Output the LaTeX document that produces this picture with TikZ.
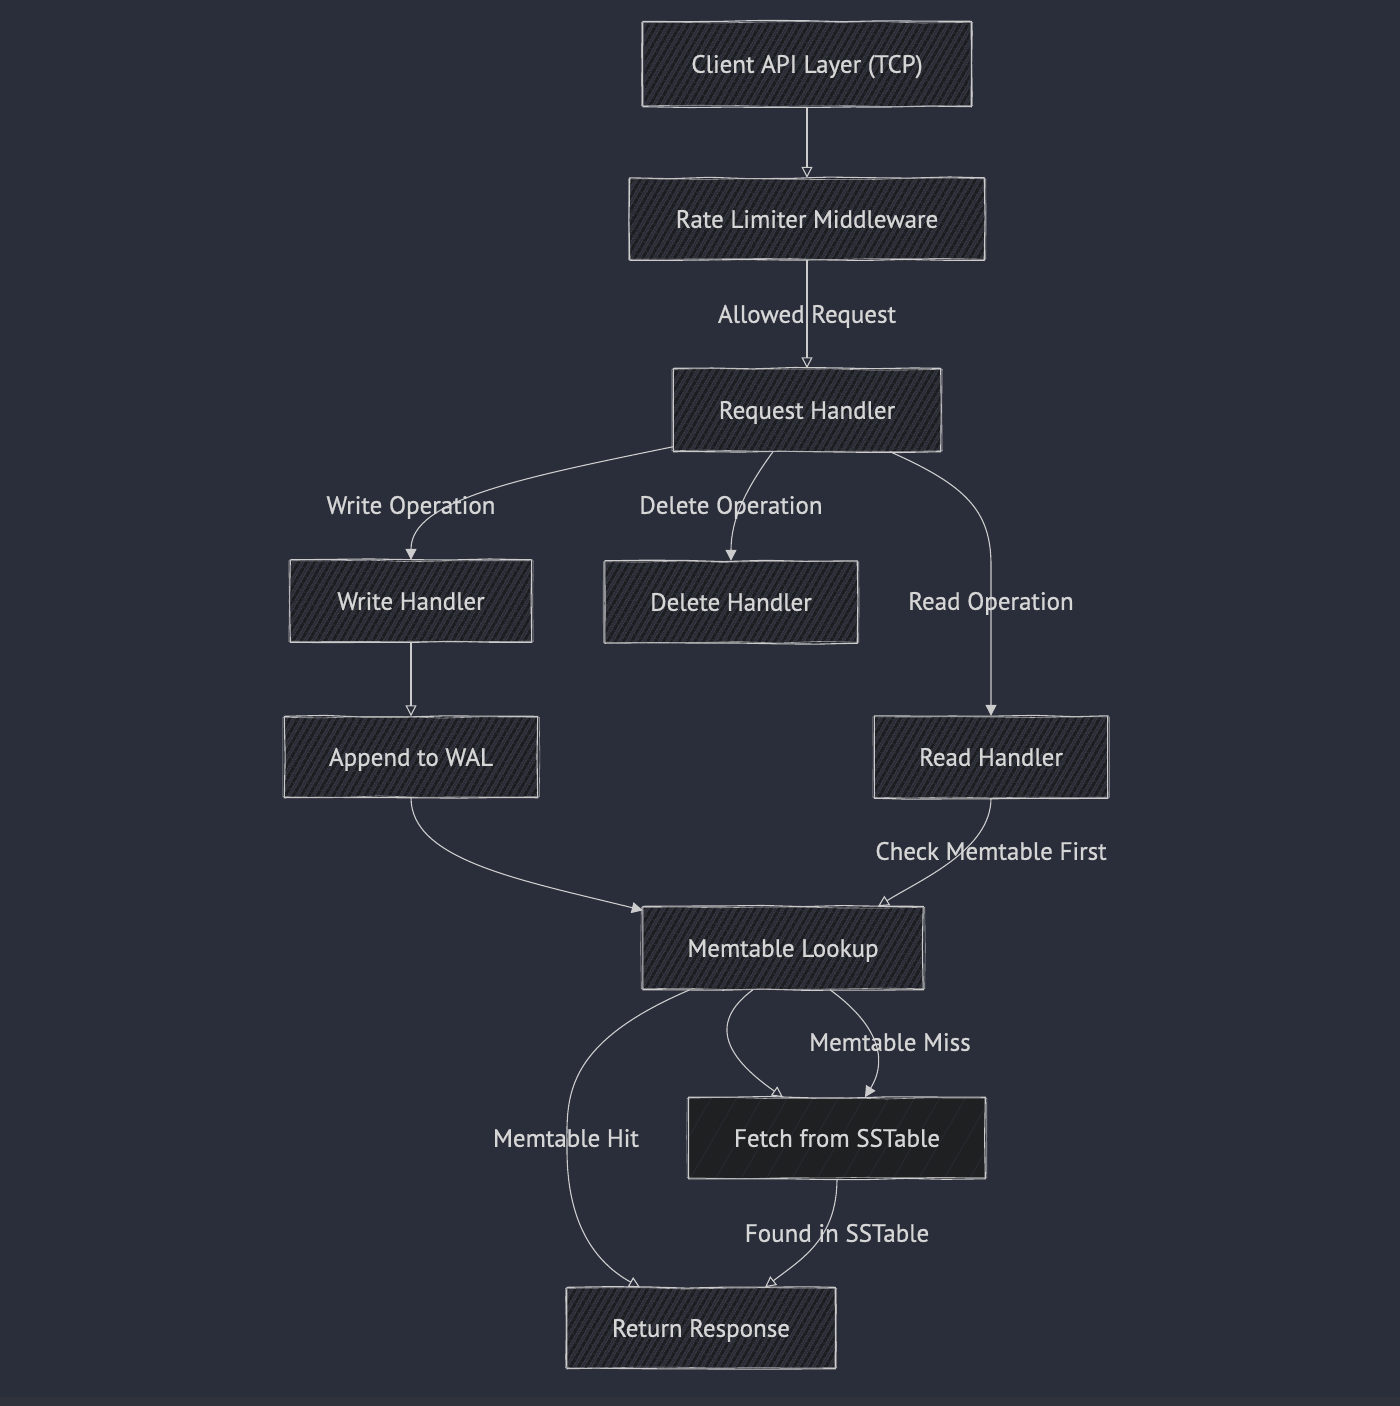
\documentclass[tikz,border=0pt]{standalone}
\usepackage{fontspec}
\setmainfont{PT Sans}[FakeBold=0.9]
\usetikzlibrary{patterns.meta,decorations.pathmorphing,arrows.meta}

\definecolor{bg}{RGB}{42,46,58}
\definecolor{strip}{RGB}{47,50,58}
\definecolor{boxbase}{RGB}{42,45,54}
\definecolor{hatch}{RGB}{28,29,32}
\definecolor{solidbase}{RGB}{31,32,34}
\definecolor{ink}{RGB}{204,204,204}
\definecolor{txt}{RGB}{214,214,214}

\tikzset{
  labelfont/.style={font=\fontsize{25}{30}\selectfont, text height=17.5pt, text depth=0pt},
  flowbox/.style={rectangle, inner sep=0pt, text=txt, labelfont,
    preaction={fill=boxbase},
    pattern={Lines[angle=60,distance=6.5pt,line width=3.4pt]}, pattern color=hatch},
  solidbox/.style={flowbox, preaction={fill=solidbase},
    pattern={Lines[angle=60,distance=22pt,line width=0.6pt]}, pattern color=boxbase},
  sketchline/.style={draw=ink, line width=1.1pt, decorate,
    decoration={random steps, segment length=40pt, amplitude=0.9pt}},
  edgelabel/.style={text=txt, labelfont, inner sep=0pt},
  flow/.style={draw=ink, line width=1.1pt, -{Triangle[width=11pt,length=11pt]}},
  flowopen/.style={draw=ink, line width=1.1pt, -{Triangle[open,width=11pt,length=11pt]}}
}
\newcommand{\sketchborder}[1]{%
  \draw[sketchline] (#1.south west) rectangle (#1.north east);
  \draw[sketchline, line width=0.6pt, draw=ink!80!bg]
    ([shift={(-1.5pt,1pt)}]#1.south west) rectangle ([shift={(1.5pt,-1pt)}]#1.north east);}

\begin{document}
\begin{tikzpicture}[x=1pt,y=-1pt]
  \pgfmathsetseed{7}
  % canvas
  \fill[bg] (0,0) rectangle (1400,1406);
  \fill[strip] (0,1397) rectangle (1400,1406);
  \useasboundingbox (0,0) rectangle (1400,1406);

  % boxes
  \node[flowbox, minimum width=325pt, minimum height=82pt] (client) at (807,64) {Client API Layer (TCP)};
  \node[flowbox, minimum width=354pt, minimum height=82pt] (rate) at (807,219) {Rate Limiter Middleware};
  \node[flowbox, minimum width=267pt, minimum height=83pt] (req) at (807,410) {Request Handler};
  \node[flowbox, minimum width=241pt, minimum height=82pt] (write) at (411,601) {Write Handler};
  \node[flowbox, minimum width=252pt, minimum height=82pt] (del) at (731,602) {Delete Handler};
  \node[flowbox, minimum width=253pt, minimum height=81pt] (wal) at (411,757) {Append to WAL};
  \node[flowbox, minimum width=233pt, minimum height=82pt] (read) at (991,757) {Read Handler};
  \node[flowbox, minimum width=280pt, minimum height=83pt] (mem) at (783,948) {Memtable Lookup};
  \node[solidbox, minimum width=296pt, minimum height=81pt] (fetch) at (837,1138) {Fetch from SSTable};
  \node[flowbox, minimum width=268pt, minimum height=81pt] (resp) at (701,1328) {Return Response};

  \foreach \n in {client,rate,req,write,del,wal,read,mem,fetch,resp} {\sketchborder{\n}}

  % connectors
  \draw[flowopen] (client.south) -- (rate.north);
  \draw[flowopen] (rate.south) -- (req.north);
  \draw[flow] ([yshift=5pt]req.south west) .. controls (520,478) and (411,500) .. (write.north);
  \draw[flow] ([xshift=-34pt]req.south) .. controls (745,490) and (731,520) .. (del.north);
  \draw[flow] ([xshift=83pt]req.south) .. controls (965,485) and (991,510) .. (991,565) -- (read.north);
  \draw[flowopen] (write.south) -- (wal.north);
  \draw[flow] (wal.south) .. controls (411,860) and (520,880) .. ([yshift=-4pt]mem.north west);
  \draw[flowopen] (read.south) .. controls (991,850) and (920,880) .. ([xshift=95pt]mem.north);
  \draw[flowopen] ([xshift=-30pt]mem.south) .. controls (705,1025) and (730,1060) .. ([xshift=-54pt]fetch.north);
  \draw[flow] ([xshift=47pt]mem.south) .. controls (885,1030) and (885,1065) .. ([xshift=28pt]fetch.north);
  \draw[flowopen] ([xshift=-93pt]mem.south) .. controls (560,1045) and (567,1100) .. (567,1150)
    .. controls (567,1230) and (600,1265) .. ([xshift=-61pt]resp.north);
  \draw[flowopen] (fetch.south) .. controls (837,1240) and (800,1260) .. ([xshift=64pt]resp.north);

  % connector labels
  \node[edgelabel] (lallowed) at (807,314) {Allowed Request};
  \node[edgelabel] (lwrite) at (411,505) {Write Operation};
  \node[edgelabel] (ldelete) at (731,505) {Delete Operation};
  \node[edgelabel] (lread) at (991,601) {Read Operation};
  \node[edgelabel] (lcheck) at (991,851) {Check Memtable First};
  \node[edgelabel] (lmiss) at (890,1042) {Memtable Miss};
  \node[edgelabel] (lhit) at (566,1138) {Memtable Hit};
  \node[edgelabel] (lfound) at (837,1233) {Found in SSTable};
\end{tikzpicture}
\end{document}
